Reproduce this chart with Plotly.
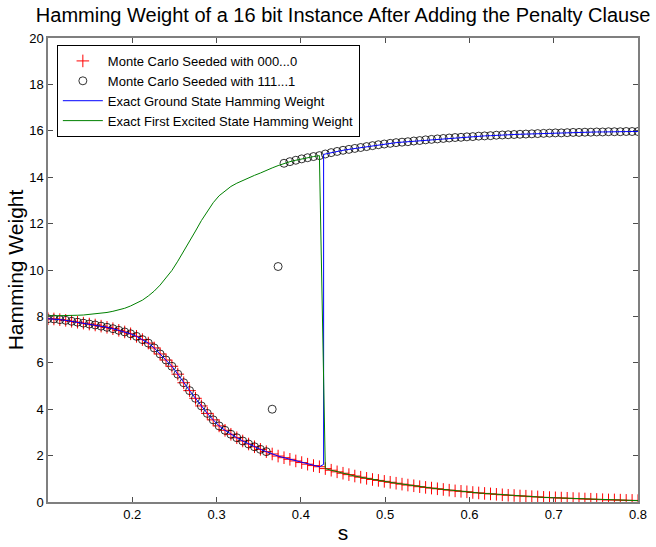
import plotly.graph_objects as go

# annealing parameter s (Monte Carlo sample points)
s = [0.100, 0.107, 0.114, 0.121, 0.128, 0.135, 0.142, 0.149, 0.156, 0.163,
     0.170, 0.177, 0.184, 0.191, 0.198, 0.205, 0.212, 0.219, 0.226, 0.233,
     0.240, 0.247, 0.254, 0.261, 0.268, 0.275, 0.282, 0.289, 0.296, 0.303,
     0.310, 0.317, 0.324, 0.331, 0.338, 0.345, 0.352, 0.359, 0.366, 0.373,
     0.380, 0.387, 0.394, 0.401, 0.408, 0.415, 0.422, 0.429, 0.436, 0.443,
     0.450, 0.457, 0.464, 0.471, 0.478, 0.485, 0.492, 0.499, 0.506, 0.513,
     0.520, 0.527, 0.534, 0.541, 0.548, 0.555, 0.562, 0.569, 0.576, 0.583,
     0.590, 0.597, 0.604, 0.611, 0.618, 0.625, 0.632, 0.639, 0.646, 0.653,
     0.660, 0.667, 0.674, 0.681, 0.688, 0.695, 0.702, 0.709, 0.716, 0.723,
     0.730, 0.737, 0.744, 0.751, 0.758, 0.765, 0.772, 0.779, 0.786, 0.793,
     0.800]

# low hamming weight branch
lower_branch = [7.90, 7.89, 7.86, 7.83, 7.79, 7.75, 7.71, 7.67, 7.63, 7.58,
                7.53, 7.47, 7.40, 7.33, 7.25, 7.14, 7.00, 6.85, 6.64, 6.38,
                6.12, 5.85, 5.51, 5.14, 4.80, 4.47, 4.14, 3.82, 3.54, 3.28,
                3.09, 2.92, 2.77, 2.63, 2.50, 2.38, 2.27, 2.17, 2.07, 1.98,
                1.91, 1.84, 1.77, 1.70, 1.63, 1.57, 1.52, 1.44, 1.37, 1.30,
                1.24, 1.18, 1.12, 1.07, 1.02, 0.97, 0.93, 0.89, 0.85, 0.81,
                0.77, 0.73, 0.70, 0.66, 0.63, 0.60, 0.57, 0.54, 0.51, 0.48,
                0.46, 0.44, 0.41, 0.39, 0.37, 0.35, 0.33, 0.31, 0.29, 0.28,
                0.26, 0.25, 0.23, 0.22, 0.20, 0.19, 0.18, 0.17, 0.16, 0.15,
                0.14, 0.13, 0.12, 0.11, 0.10, 0.09, 0.09, 0.08, 0.07, 0.07,
                0.06]

# high hamming weight branch
upper_branch = [8.02, 8.02, 8.03, 8.03, 8.04, 8.05, 8.06, 8.08, 8.10, 8.13,
                8.17, 8.22, 8.27, 8.35, 8.45, 8.56, 8.70, 8.88, 9.09, 9.35,
                9.65, 9.98, 10.38, 10.80, 11.24, 11.68, 12.13, 12.53, 12.90, 13.20,
                13.42, 13.60, 13.74, 13.86, 13.97, 14.08, 14.18, 14.30, 14.40, 14.50,
                14.60, 14.67, 14.73, 14.79, 14.84, 14.89, 14.93, 15.00, 15.06, 15.11,
                15.16, 15.20, 15.24, 15.28, 15.32, 15.36, 15.40, 15.43, 15.46, 15.49,
                15.51, 15.53, 15.56, 15.58, 15.61, 15.63, 15.65, 15.67, 15.69, 15.71,
                15.72, 15.74, 15.75, 15.77, 15.78, 15.79, 15.81, 15.82, 15.83, 15.84,
                15.85, 15.86, 15.87, 15.88, 15.89, 15.90, 15.91, 15.91, 15.92, 15.93,
                15.93, 15.94, 15.94, 15.95, 15.95, 15.96, 15.96, 15.96, 15.97, 15.97,
                15.97]

# seeded with 111...1: two stray runs before it settles on the upper branch
mc_ones_stray = [4.00, 10.15]
mc_ones_switch = 38          # index of first stray point
exact_switch = 47            # index where ground / excited states swap
ground_jump_s = [0.427, 0.427]
ground_jump_w = [1.62, 14.98]

mc_zeros = lower_branch
mc_ones = lower_branch[:mc_ones_switch] + mc_ones_stray + upper_branch[mc_ones_switch + 2:]

s_ground = s[:exact_switch] + ground_jump_s + s[exact_switch:]
ground = lower_branch[:exact_switch] + ground_jump_w + upper_branch[exact_switch:]
excited = upper_branch[:exact_switch] + lower_branch[exact_switch:]

FONT = "Liberation Sans, Arial, Helvetica, sans-serif"

fig = go.Figure()

fig.add_trace(go.Scatter(x=s, y=mc_zeros, mode="markers",
                         name="Monte Carlo Seeded with 000...0",
                         marker=dict(symbol="cross-thin", size=9,
                                     line=dict(color="#ff0000", width=1))))
fig.add_trace(go.Scatter(x=s, y=mc_ones, mode="markers",
                         name="Monte Carlo Seeded with 111...1",
                         marker=dict(symbol="circle-open", size=8, color="#000000",
                                     line=dict(color="#000000", width=0.8))))
fig.add_trace(go.Scatter(x=s_ground, y=ground, mode="lines",
                         name="Exact Ground State Hamming Weight",
                         line=dict(color="#0000ff", width=1)))
fig.add_trace(go.Scatter(x=s, y=excited, mode="lines",
                         name="Exact First Excited State Hamming Weight",
                         line=dict(color="#008000", width=1)))

axis_style = dict(showline=True, linecolor="#7f7f7f", linewidth=1.5,
                  mirror="ticks", ticks="inside", ticklen=5, tickcolor="#4d4d4d",
                  showgrid=False, zeroline=False, automargin=False,
                  tickfont=dict(family=FONT, size=13, color="#000000"))

fig.update_xaxes(range=[0.1, 0.8], tickvals=[0.2, 0.3, 0.4, 0.5, 0.6, 0.7, 0.8],
                 title=dict(text="s", font=dict(family=FONT, size=21, color="#000000"),
                            standoff=4),
                 **axis_style)
fig.update_yaxes(range=[0, 20], tickvals=list(range(0, 21, 2)),
                 title=dict(text="Hamming Weight", font=dict(family=FONT, size=21, color="#000000"),
                            standoff=0),
                 **axis_style)

fig.update_layout(
    width=656, height=547,
    margin=dict(l=48, r=18, t=38, b=45),
    paper_bgcolor="white", plot_bgcolor="white",
    font=dict(family=FONT, size=13, color="#000000"),
    title=dict(text="Hamming Weight of a 16 bit Instance After Adding the Penalty Clause",
               x=0.523, xanchor="center", y=0.972, yanchor="middle",
               font=dict(family=FONT, size=20, color="#000000")),
    legend=dict(x=0.015, y=0.985, xanchor="left", yanchor="top",
                bgcolor="white", bordercolor="#000000", borderwidth=1,
                font=dict(family=FONT, size=13, color="#000000"),
                itemwidth=40, tracegroupgap=0),
    showlegend=True,
)

# drop the page's default body margin so the 656x547 figure fills the window
fig.write_html("out.html", config={"displayModeBar": False},
               post_script="document.body.style.margin = '0';")
